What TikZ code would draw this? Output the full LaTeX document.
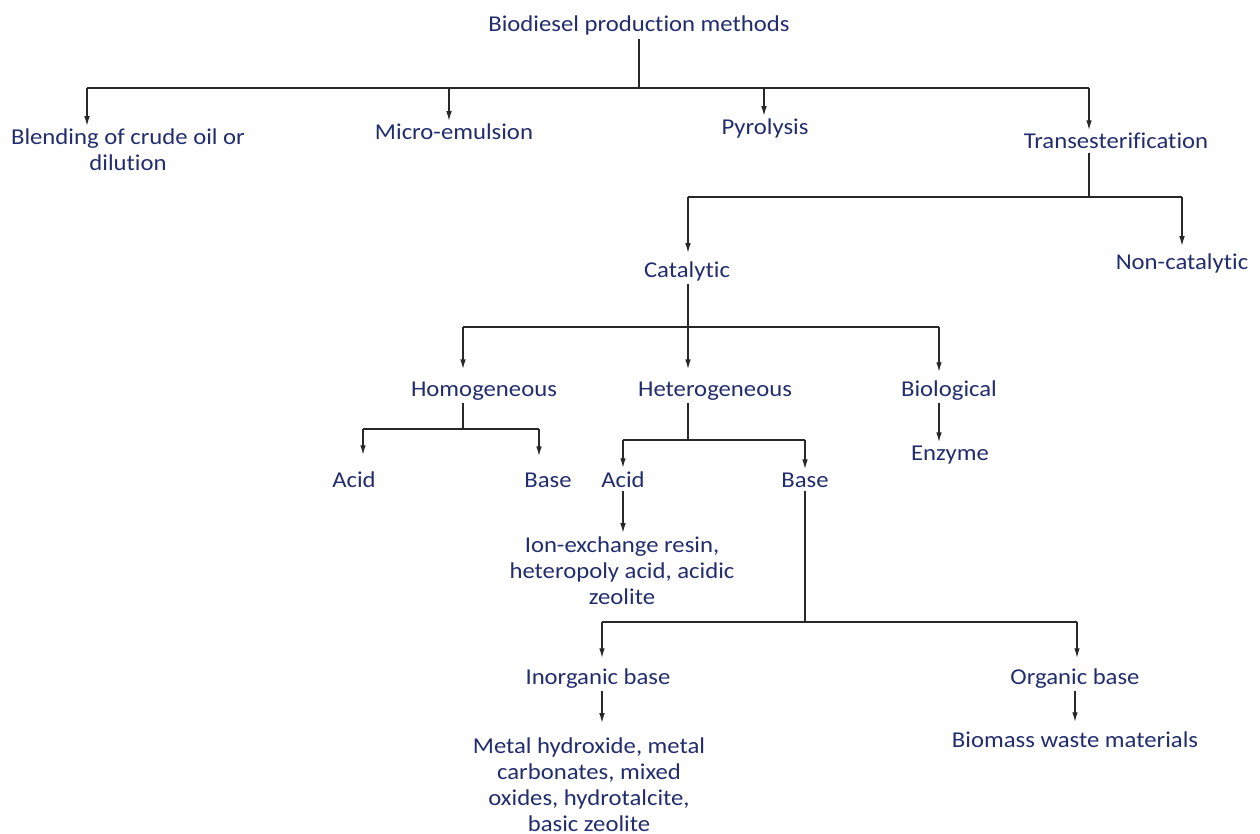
\documentclass[tikz,border=0pt]{standalone}
\usepackage{fontspec}
\setmainfont{Carlito}[FakeStretch=1.09, Ligatures=NoCommon]
\usetikzlibrary{arrows.meta, positioning}
\definecolor{txtblue}{RGB}{33,45,110}
\definecolor{linegray}{RGB}{40,40,40}

\begin{document}
\begin{tikzpicture}[x=0.02cm, y=-0.02cm,
  lbl/.style={text=txtblue, inner sep=0.06cm, anchor=base, align=center,
    font=\fontsize{12.9}{14.8}\selectfont},
  line/.style={draw=linegray, line width=0.75pt},
  arr/.style={line, -{Latex[length=5.5pt,width=3.2pt]}}]
  \useasboundingbox (0,0) rectangle (1260,834);

  % labels (base = last line)
  \node[lbl] (bpm) at (639,32) {Biodiesel production methods};
  \node[lbl] (blend) at (128,171) {Blending of crude oil or\\dilution};
  \node[lbl] (micro) at (454,140) {Micro-emulsion};
  \node[lbl] (pyro) at (765,135) {Pyrolysis};
  \node[lbl] (trans) at (1116,149) {Transesterification};
  \node[lbl] (cat) at (687,277) {Catalytic};
  \node[lbl] (noncat) at (1182,270) {Non-catalytic};
  \node[lbl] (homo) at (484,396) {Homogeneous};
  \node[lbl] (hetero) at (715,396) {Heterogeneous};
  \node[lbl] (bio) at (949,396) {Biological};
  \node[lbl] (hoacid) at (354,487) {Acid};
  \node[lbl] (hobase) at (548,487) {Base};
  \node[lbl] (heacid) at (623,487) {Acid};
  \node[lbl] (hebase) at (805,487) {Base};
  \node[lbl] (ionex) at (622,604) {Ion-exchange resin,\\heteropoly acid, acidic\\zeolite};
  \node[lbl] (enzyme) at (950,460) {Enzyme};
  \node[lbl] (inorg) at (598,684) {Inorganic base};
  \node[lbl] (org) at (1075,684) {Organic base};
  \node[lbl] (metal) at (589,831) {Metal hydroxide, metal\\carbonates, mixed\\oxides, hydrotalcite,\\basic zeolite};
  \node[lbl] (biomass) at (1075,747) {Biomass waste materials};

  % branch points
  \coordinate (j0) at (639,88);
  \coordinate (j1) at (87,88);
  \coordinate (j2) at (449,88);
  \coordinate (j3) at (764,88);
  \coordinate (j4) at (1089,88);
  \coordinate (k0) at (1089,197);
  \coordinate (k1) at (688,197);
  \coordinate (k2) at (1182,197);
  \coordinate (m1) at (463,327);
  \coordinate (m2) at (688,327);
  \coordinate (m3) at (939,327);
  \coordinate (h0) at (463,429);
  \coordinate (h1) at (363,429);
  \coordinate (h2) at (539,429);
  \coordinate (e0) at (688,440);
  \coordinate (e1) at (623,440);
  \coordinate (e2) at (805,440);
  \coordinate (b0) at (805,622);
  \coordinate (b1) at (602,622);
  \coordinate (b2) at (1077,622);

  % first level
  \draw[line] (bpm.south) -- (j0);
  \draw[line] (j1) -- (j4);
  \draw[arr] (j1) -- (j1 |- blend.north);
  \draw[arr] (j2) -- (j2 |- micro.north);
  \draw[arr] (j3) -- (j3 |- pyro.north);
  \draw[arr] (j4) -- (j4 |- trans.north);

  % transesterification
  \draw[line] (k0 |- trans.south) -- (k0);
  \draw[line] (k1) -- (k2);
  \draw[arr, shorten >=1mm] (k1) -- (k1 |- cat.north);
  \draw[arr, shorten >=1mm] (k2) -- (noncat.north);

  % catalytic
  \draw[line] (m2 |- cat.south) -- (m2);
  \draw[line] (m1) -- (m3);
  \draw[arr, shorten >=1.8mm] (m1) -- (m1 |- homo.north);
  \draw[arr, shorten >=1.8mm] (m2) -- (m2 |- hetero.north);
  \draw[arr, shorten >=1mm] (m3) -- (m3 |- bio.north);
  \draw[arr] (m3 |- bio.south) -- (m3 |- enzyme.north);

  % homogeneous
  \draw[line] (h0 |- homo.south) -- (h0);
  \draw[line] (h1) -- (h2);
  \draw[arr, shorten >=2.6mm] (h1) -- (h1 |- hoacid.north);
  \draw[arr, shorten >=2.6mm] (h2) -- (h2 |- hobase.north);

  % heterogeneous
  \draw[line] (e0 |- hetero.south) -- (e0);
  \draw[line] (e1) -- (e2);
  \draw[arr] (e1) -- (heacid.north);
  \draw[arr] (e2) -- (hebase.north);
  \draw[arr] (heacid.south) -- (heacid.south |- ionex.north);

  % heterogeneous base
  \draw[line] (hebase.south) -- (b0);
  \draw[line] (b1) -- (b2);
  \draw[arr, shorten >=1.4mm] (b1) -- (b1 |- inorg.north);
  \draw[arr, shorten >=1.4mm] (b2) -- (b2 |- org.north);
  \draw[arr, shorten >=2.2mm] (b1 |- inorg.south) -- (b1 |- metal.north);
  \draw[arr, shorten >=1.2mm] (org.south) -- (biomass.north);
\end{tikzpicture}
\end{document}
